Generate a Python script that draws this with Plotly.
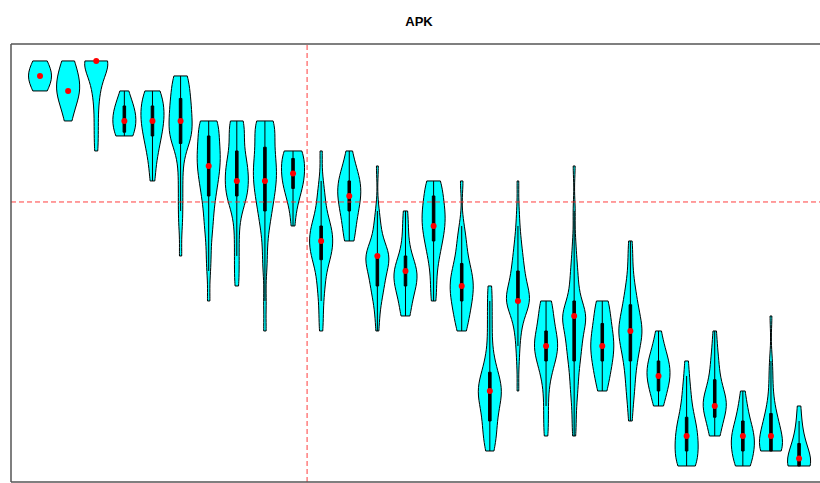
import numpy as np
import plotly.graph_objects as go

# violin positions (1..28)
positions = list(range(1, 29))

# lowest integer level of each group
min_levels = [25, 23, 21, 22, 19, 14, 11, 12, 9, 16, 9, 15, 9, 10,
              11, 9, 1, 5, 2, 2, 5, 3, 4, 0, 2, 0, 1, 0]

# counts of observations at consecutive integer levels, starting at min_levels
level_counts = [
    [2, 7, 2],
    [1, 2, 4, 3, 2],
    [1, 1, 1, 1, 2, 3, 10],
    [3, 4, 3, 1],
    [1, 1, 2, 3, 4, 4, 3],
    [1, 0, 1, 1, 1, 1, 1, 2, 6, 5, 5, 4, 4],
    [1, 0, 1, 1, 1, 2, 2, 3, 4, 5, 5, 4, 5],
    [1, 1, 1, 1, 1, 2, 5, 5, 5, 3, 3, 4],
    [1, 0, 1, 0, 1, 1, 1, 2, 3, 4, 5, 5, 4, 4, 5],
    [1, 1, 3, 5, 5, 5],
    [1, 1, 1, 2, 2, 5, 6, 5, 2, 2, 1, 0, 1],
    [2, 2, 3, 4, 4, 2, 1],
    [1, 1, 2, 4, 4, 9, 2, 2, 1, 0, 0, 1],
    [2, 2, 4, 5, 2, 1, 1, 1],
    [1, 1, 1, 2, 3, 4, 4, 3, 3],
    [2, 3, 4, 5, 4, 2, 2, 1, 0, 0, 1],
    [2, 3, 3, 4, 6, 4, 2, 1, 1, 1, 1, 1],
    [1, 0, 1, 1, 2, 3, 10, 5, 4, 3, 2, 1, 1, 0, 1],
    [1, 1, 1, 1, 2, 4, 6, 4, 3, 3],
    [1, 1, 1, 2, 2, 3, 4, 4, 8, 3, 2, 2, 1, 1, 0, 1, 0, 0, 1],
    [2, 3, 4, 5, 4, 3, 3],
    [1, 1, 2, 2, 3, 4, 6, 4, 3, 2, 1, 1, 1],
    [2, 3, 5, 4, 2, 1],
    [5, 5, 5, 4, 2, 2, 1, 1],
    [3, 3, 7, 4, 2, 2, 1, 1],
    [4, 5, 6, 3, 2, 1],
    [8, 6, 4, 2, 1, 1, 1, 0, 0, 1],
    [8, 4, 2, 1, 1],
]

# the first three groups show no inner box in the original
box_shown = [False, False, False] + [True] * 25

ref_y = 17.6   # horizontal reference line
ref_x = 10.5   # vertical reference line
title_text = "APK"

fig = go.Figure()
medians = []
for pos, low, counts, show_box in zip(positions, min_levels, level_counts, box_shown):
    vals = np.repeat(np.arange(low, low + len(counts)), counts).astype(float)
    medians.append(float(np.median(vals)))
    fig.add_trace(go.Violin(
        x=[pos] * len(vals), y=vals,
        width=0.82, scalemode="width", spanmode="hard", bandwidth=0.85,
        points=False, fillcolor="#00FFFF", opacity=1,
        line=dict(color="black", width=1),
        box=dict(visible=show_box, width=0.11, fillcolor="black",
                 line=dict(color="black", width=1)),
        meanline=dict(visible=False),
        hoverinfo="skip", showlegend=False,
    ))

fig.add_trace(go.Scatter(
    x=positions, y=medians, mode="markers",
    marker=dict(color="red", size=6),
    showlegend=False, hoverinfo="skip",
))

dash_line = dict(color="rgba(255,40,40,0.9)", width=1, dash="5px,3px")
fig.add_shape(type="line", xref="paper", x0=0, x1=1, yref="y", y0=ref_y, y1=ref_y,
              line=dash_line, layer="above")
fig.add_shape(type="line", yref="paper", y0=0, y1=1, xref="x", x0=ref_x, x1=ref_x,
              line=dash_line, layer="above")

# frame: left, top and bottom only (right edge is outside the window)
frame = dict(color="#555", width=1.5)
fig.add_shape(type="line", xref="paper", yref="paper", x0=0, x1=0, y0=0, y1=1, line=frame, layer="above")
fig.add_shape(type="line", xref="paper", yref="paper", x0=0, x1=1, y0=1, y1=1, line=frame, layer="above")
fig.add_shape(type="line", xref="paper", yref="paper", x0=0, x1=1, y0=0, y1=0, line=frame, layer="above")

fig.update_layout(
    width=830, height=483,
    margin=dict(l=11, r=0, t=44, b=1, autoexpand=False),
    paper_bgcolor="white", plot_bgcolor="white",
    violinmode="overlay",
    title=dict(text="<b>" + title_text + "</b>", x=419 / 830, xanchor="center",
               y=1 - 21.5 / 483, yanchor="middle",
               font=dict(family="Liberation Sans, Arial", size=13, color="black")),
    xaxis=dict(range=[-0.032, 29.10], showgrid=False, zeroline=False,
               showline=False, ticks="outside", tickvals=positions, ticklen=6,
               tickcolor="#555", showticklabels=False, fixedrange=True, automargin=False),
    yaxis=dict(range=[-1.067, 28.13], showgrid=False, zeroline=False,
               showline=False, showticklabels=False, ticks="", fixedrange=True,
               automargin=False),
)

fig.write_html(
    "out.html",
    config={"displayModeBar": False},
    post_script="document.body.style.margin='0px';document.body.style.overflow='hidden';",
)
